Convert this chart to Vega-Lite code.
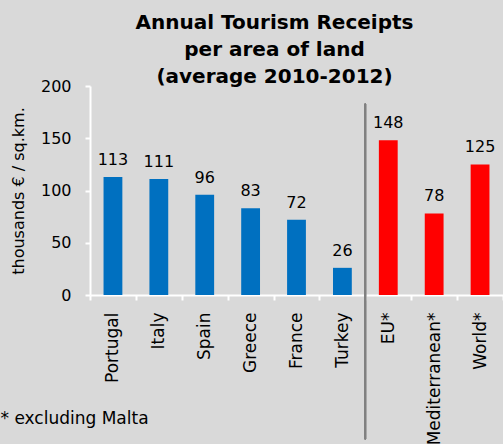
{
  "$schema": "https://vega.github.io/schema/vega-lite/v6.json",
  "autosize": {"type": "none"},
  "width": 413,
  "height": 209,
  "padding": {"left": 90, "top": 86, "right": 0, "bottom": 149},
  "background": "#d9d9d9",
  "config": {
    "view": {"stroke": null},
    "font": "DejaVu Sans"
  },
  "title": {
    "text": ["Annual Tourism Receipts", "per area of land", "(average 2010-2012)"],
    "font": "DejaVu Sans",
    "fontWeight": "bold",
    "fontSize": 20,
    "lineHeight": 27,
    "color": "#000000",
    "anchor": "middle",
    "frame": "group",
    "dx": -22,
    "offset": -9
  },
  "data": {
    "values": [
      {"name": "Portugal", "value": 113, "group": "country"},
      {"name": "Italy", "value": 111, "group": "country"},
      {"name": "Spain", "value": 96, "group": "country"},
      {"name": "Greece", "value": 83, "group": "country"},
      {"name": "France", "value": 72, "group": "country"},
      {"name": "Turkey", "value": 26, "group": "country"},
      {"name": "EU*", "value": 148, "group": "aggregate"},
      {"name": "Mediterranean*", "value": 78, "group": "aggregate"},
      {"name": "World*", "value": 125, "group": "aggregate"}
    ]
  },
  "layer": [
    {
      "mark": {"type": "bar", "width": {"band": 0.41}},
      "encoding": {
        "x": {
          "field": "name",
          "type": "nominal",
          "sort": null,
          "scale": {"paddingInner": 0, "paddingOuter": 0},
          "axis": {
            "title": "* excluding Malta",
            "titleFont": "DejaVu Sans",
            "titleFontSize": 17,
            "titleFontWeight": "normal",
            "titleColor": "#000000",
            "titleAngle": 0,
            "titleAlign": "left",
            "titleBaseline": "alphabetic",
            "titleAnchor": "start",
            "titleX": -90,
            "titleY": 128,
            "labelAngle": -90,
            "labelFont": "DejaVu Sans",
            "labelFontSize": 17,
            "labelColor": "#000000",
            "labelPadding": 12,
            "tickBand": "extent",
            "tickColor": "#ffffff",
            "tickSize": 5,
            "tickWidth": 2,
            "domainColor": "#ffffff",
            "domainWidth": 2,
            "grid": false
          }
        },
        "y": {
          "field": "value",
          "type": "quantitative",
          "scale": {"domain": [0, 200], "nice": false},
          "axis": {
            "title": "thousands € / sq.km.",
            "titleFont": "DejaVu Sans",
            "titleFontSize": 16,
            "titleFontWeight": "normal",
            "titleColor": "#000000",
            "titlePadding": 14,
            "values": [0, 50, 100, 150, 200],
            "labelFont": "DejaVu Sans",
            "labelFontSize": 16,
            "labelColor": "#000000",
            "labelPadding": 14,
            "tickColor": "#ffffff",
            "tickSize": 5,
            "tickWidth": 2,
            "domainColor": "#ffffff",
            "domainWidth": 2,
            "grid": false
          }
        },
        "color": {
          "field": "group",
          "type": "nominal",
          "scale": {"domain": ["country", "aggregate"], "range": ["#0070c0", "#ff0000"]},
          "legend": null
        }
      }
    },
    {
      "mark": {"type": "text", "baseline": "alphabetic", "dy": -12, "fontSize": 16, "font": "DejaVu Sans", "color": "#000000"},
      "encoding": {
        "x": {"field": "name", "type": "nominal", "sort": null},
        "y": {"field": "value", "type": "quantitative"},
        "text": {"field": "value", "type": "quantitative"}
      }
    },
    {
      "mark": {"type": "rule", "color": "#808080", "strokeWidth": 1.5},
      "encoding": {
        "x": {"datum": "EU*", "type": "nominal", "bandPosition": 0},
        "y": {"datum": 183},
        "y2": {"datum": -138}
      }
    }
  ]
}
